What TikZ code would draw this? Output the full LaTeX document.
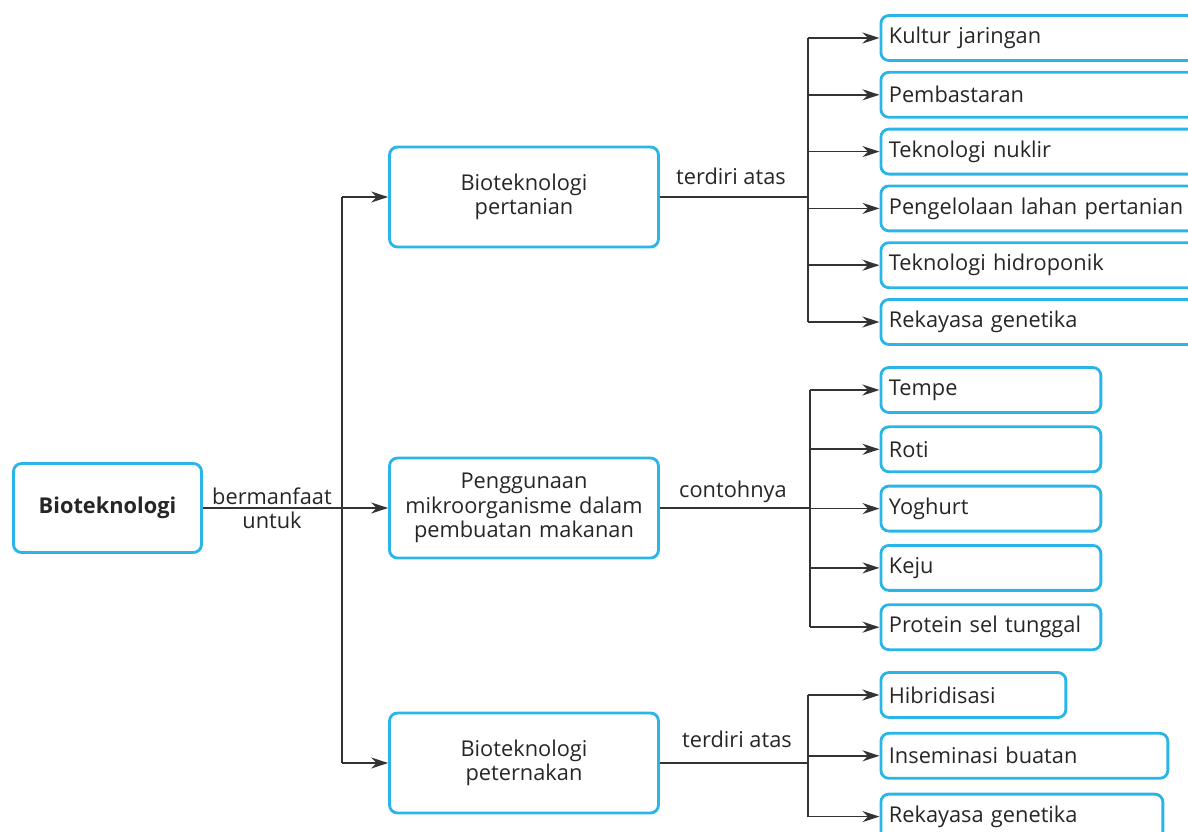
\documentclass[tikz,border=0pt]{standalone}
\usepackage{fontspec}
\setmainfont{Open Sans}
\usetikzlibrary{positioning,arrows.meta}
\definecolor{boxblue}{HTML}{29B5E8}
\definecolor{linegray}{HTML}{333333}
\tikzset{
  box/.style={draw=boxblue, line width=1.6pt, rounded corners=0.16cm,
    text=black!85, inner sep=0pt},
  mainbox/.style={box, minimum width=5.38cm, minimum height=2cm,
    text width=5.2cm, align=center},
  leaf/.style={box, minimum height=0.9cm, inner xsep=0.16cm, align=left},
  arr/.style={draw=linegray, line width=1pt, -{Stealth[length=0.34cm,width=0.22cm]}},
  conn/.style={draw=linegray, line width=1pt},
  lbl/.style={text=black!85, align=center},
}
\begin{document}
\begin{tikzpicture}[x=0.02cm, y=-0.02cm,
    font=\fontsize{12.4}{13.8}\selectfont]
  \useasboundingbox (0,0) rectangle (1188,832);

  % root and the three uses
  \node[box, minimum width=3.76cm, minimum height=1.78cm] (root) at (107.5,508)
    {\textbf{Bioteknologi}};
  \node[mainbox] (tani) at (524,197) {Bioteknologi\\pertanian};
  \node[mainbox] (mikro) at (524,508)
    {Penggunaan\\mikroorganisme dalam\\pembuatan makanan};
  \node[mainbox] (ternak) at (524,763) {Bioteknologi\\peternakan};

  \node[lbl] (manfaat) at (272,508) {bermanfaat\\untuk};
  \coordinate (trunk) at (342,508);
  \draw[arr] (root.east) -- (mikro.west);
  \draw[conn] (trunk |- tani.west) -- (trunk |- ternak.west);
  \draw[arr] (trunk |- tani.west) -- (tani.west);
  \draw[arr] (trunk |- ternak.west) -- (ternak.west);

  % bioteknologi pertanian
  \node[leaf, text width=6.3cm, anchor=west] (t1) at (879.5,38) {Kultur jaringan};
  \node[leaf, text width=6.3cm, below=0.18cm of t1.south west, anchor=north west] (t2) {Pembastaran};
  \node[leaf, text width=6.3cm, below=0.18cm of t2.south west, anchor=north west] (t3) {Teknologi nuklir};
  \node[leaf, text width=6.3cm, below=0.18cm of t3.south west, anchor=north west] (t4) {Pengelolaan lahan pertanian};
  \node[leaf, text width=6.3cm, below=0.18cm of t4.south west, anchor=north west] (t5) {Teknologi hidroponik};
  \node[leaf, text width=6.3cm, below=0.18cm of t5.south west, anchor=north west] (t6) {Rekayasa genetika};

  \node[lbl] (tlbl) at (731,176) {terdiri atas};
  \coordinate (forkt) at (808,0);
  \draw[conn] (tani.east) -- (forkt |- tani.east);
  \draw[conn] (forkt |- t1.west) -- (forkt |- t6.west);
  \foreach \i in {1,...,6}
    \draw[arr] (forkt |- t\i.west) -- (t\i.west);

  % mikroorganisme
  \node[leaf, text width=4.08cm, anchor=west] (m1) at (879.5,390) {Tempe};
  \node[leaf, text width=4.08cm, below=0.23cm of m1.south west, anchor=north west] (m2) {Roti};
  \node[leaf, text width=4.08cm, below=0.23cm of m2.south west, anchor=north west] (m3) {Yoghurt};
  \node[leaf, text width=4.08cm, below=0.23cm of m3.south west, anchor=north west] (m4) {Keju};
  \node[leaf, text width=4.08cm, below=0.23cm of m4.south west, anchor=north west] (m5) {Protein sel tunggal};

  \node[lbl] (mlbl) at (733,492) {contohnya};
  \coordinate (forkm) at (810,0);
  \draw[conn] (mikro.east) -- (forkm |- mikro.east);
  \draw[conn] (forkm |- m1.west) -- (forkm |- m5.west);
  \foreach \i in {1,...,5}
    \draw[arr] (forkm |- m\i.west) -- (m\i.west);

  % peternakan
  \node[leaf, text width=3.38cm, anchor=west] (p1) at (879.5,695) {Hibridisasi};
  \node[leaf, text width=5.42cm, below=0.26cm of p1.south west, anchor=north west] (p2) {Inseminasi buatan};
  \node[leaf, text width=5.32cm, below=0.26cm of p2.south west, anchor=north west] (p3) {Rekayasa genetika};

  \node[lbl] (plbl) at (737,739) {terdiri atas};
  \coordinate (forkp) at (808,0);
  \draw[conn] (ternak.east) -- (forkp |- ternak.east);
  \draw[conn] (forkp |- p1.west) -- (forkp |- p3.west);
  \foreach \i in {1,...,3}
    \draw[arr] (forkp |- p\i.west) -- (p\i.west);
\end{tikzpicture}
\end{document}
